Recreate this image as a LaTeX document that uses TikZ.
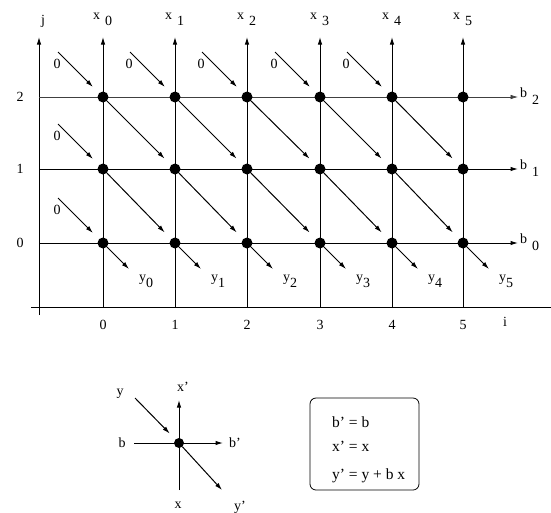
\documentclass[tikz,border=0pt]{standalone}
\usepackage{fontspec}
\setmainfont{Liberation Serif}
\usetikzlibrary{arrows.meta}
\begin{document}
\begin{tikzpicture}[x=1pt,y=-1pt,
  ln/.style={line width=1pt},
  arr/.style={line width=1pt,-{Latex[length=7.5pt,width=4.5pt]}},
  dot/.style={circle,fill=black,inner sep=0pt,minimum size=11pt},
  lab/.style={font=\fontsize{14}{16}\selectfont,inner sep=0pt},
  boxtxt/.style={font=\fontsize{15.5}{17}\selectfont,inner sep=0pt,anchor=base west},
]
\useasboundingbox (0,0) rectangle (551,512);
% axes
\coordinate (jb) at (39,315);
\coordinate (jt) at (39,37);
\coordinate (ia) at (31,307);
\coordinate (ib) at (551,307);
\draw[arr] (jb) -- (jt);
\draw[ln] (ia) -- (ib);
\node[lab] (jlab) at (43,21) {j};
\node[lab] (ilab) at (505,322) {i};
% horizontal lines
\foreach \r [count=\j from 0] in {243,169,97} {
  \coordinate (lft-\j) at (39,\r);
  \coordinate (rgt-\j) at (518,\r);
  \node[lab] (rowlab-\j) at (20,\r) {\j};
  \node[lab,anchor=base west] (blab-\j) at (520,\r) {b\hspace{5pt}\raisebox{-7pt}{\j}};
}
\draw[arr] (lft-0) -- (rgt-0);
\draw[arr] (lft-1) -- (rgt-1);
\draw[arr,line width=0.6pt,black!75] (lft-2) -- (rgt-2);
% vertical lines, nodes
\foreach \c [count=\i from 0] in {103,175,247,320,392,463} {
  \coordinate (bot-\i) at (\c,307);
  \coordinate (top-\i) at (\c,37);
  \draw[arr] (bot-\i) -- (top-\i);
  \node[lab] (collab-\i) at (\c,325) {\i};
  \node[lab,anchor=base west] (xlab-\i) at (\c-10,19) {x\hspace{5pt}\raisebox{-6pt}{\i}};
  \node[lab,anchor=base west] (ylab-\i) at (\c+36,281) {y\raisebox{-6pt}{\i}};
  \foreach \r [count=\j from 0] in {243,169,97} {
    \node[dot] (n-\i-\j) at (\c,\r) {};
  }
  \coordinate (out-\i) at (\c+26,269);
  \draw[arr] (n-\i-0) -- (out-\i);
}
% diagonal arrows between nodes
\foreach \i [evaluate=\i as \ii using int(\i+1)] in {0,...,4} {
  \draw[arr,shorten >=9pt] (n-\i-2) -- (n-\ii-1);
  \draw[arr,shorten >=9pt] (n-\i-1) -- (n-\ii-0);
}
% zero inputs on top row
\foreach \c [count=\i from 0] in {103,175,247,320,392} {
  \coordinate (in-\i-2) at (\c-45,52);
  \draw[arr,shorten >=8.5pt] (in-\i-2) -- (n-\i-2);
  \node[lab] (zlab-\i-2) at (\c-46,64) {0};
}
% zero inputs on column 0
\foreach \r [count=\j from 0] in {243,169} {
  \coordinate (in-0-\j) at (58,\r-45);
  \draw[arr,shorten >=8.5pt] (in-0-\j) -- (n-0-\j);
  \node[lab] (zlab-0-\j) at (57,\r-33) {0};
}
% legend cell
\node[dot,minimum size=10pt] (L) at (179,443) {};
\coordinate (Lxin) at (179,490);
\coordinate (Lxout) at (179,400);
\coordinate (Lbin) at (134,443);
\coordinate (Lbout) at (223,443);
\coordinate (Lyin) at (135,398);
\coordinate (Lyout) at (222,490);
\draw[arr] (Lxin) -- (Lxout);
\draw[arr] (Lbin) -- (Lbout);
\draw[arr,shorten >=8pt] (Lyin) -- (L);
\draw[arr] (L) -- (Lyout);
\node[lab] (Lylab) at (120,394) {y};
\node[lab] (Lxplab) at (183,387) {x'};
\node[lab] (Lblab) at (122,443) {b};
\node[lab] (Lbplab) at (235,443) {b'};
\node[lab] (Lxlab) at (178,505) {x};
\node[lab] (Lyplab) at (240,507) {y'};
% rule box
\draw[line width=0.8pt,rounded corners=6pt] (310,398) rectangle (419,490);
\node[boxtxt] (eq1) at (332,427) {b' = b};
\node[boxtxt] (eq2) at (332,451) {x' = x};
\node[boxtxt] (eq3) at (332,479) {y' = y + b x};
\end{tikzpicture}
\end{document}
